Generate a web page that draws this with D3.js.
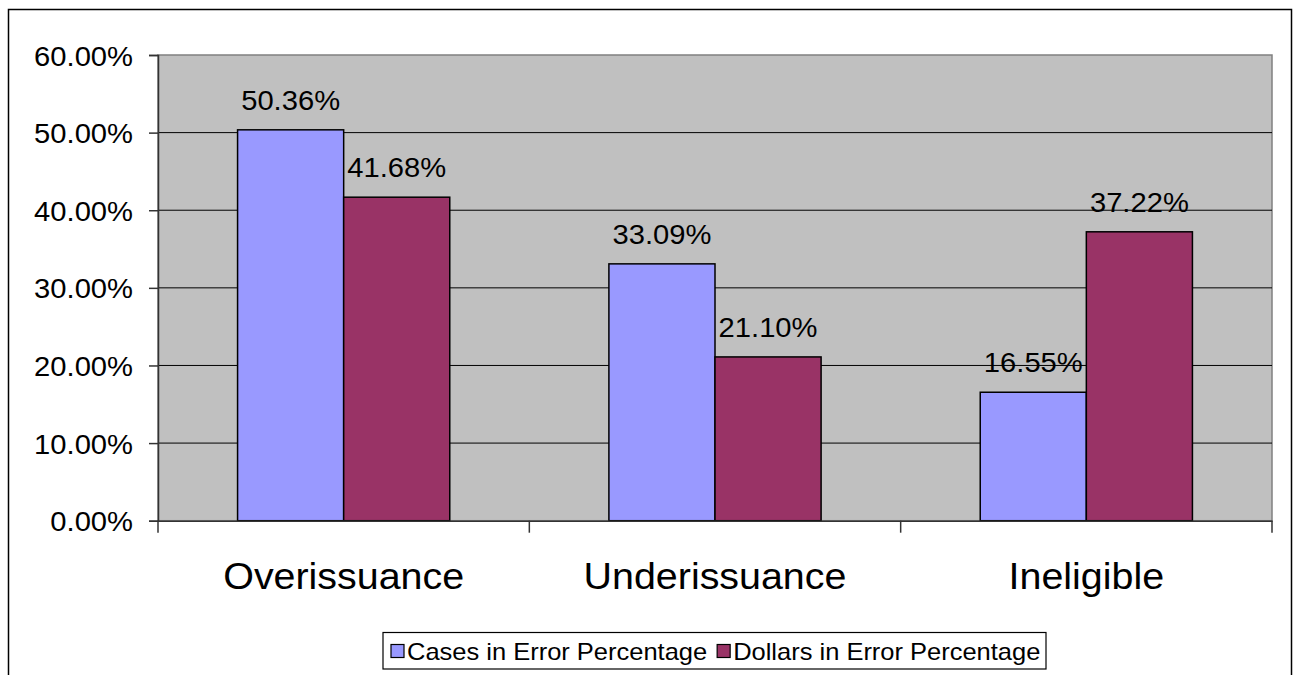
<!DOCTYPE html>
<html>
<head>
<meta charset="utf-8">
<script src="https://cdn.jsdelivr.net/npm/d3@7/dist/d3.min.js"></script>
<style>
html,body{margin:0;padding:0;background:#fff;}
svg{display:block;}
text{font-family:"Liberation Sans",Arial,Helvetica,sans-serif;fill:#000;}
</style>
</head>
<body>
<svg id="chart" width="1293" height="675"></svg>
<script>
const categories = ["Overissuance", "Underissuance", "Ineligible"];
const seriesNames = ["Cases in Error Percentage", "Dollars in Error Percentage"];
const casesValues = [0.5036, 0.3309, 0.1655];
const dollarsValues = [0.4168, 0.2110, 0.3722];
const yTicks = [0, 0.1, 0.2, 0.3, 0.4, 0.5, 0.6];
const colors = ["#9999FF", "#993366"];

const SX = 1.08; // horizontal stretch of the original rendering
const svg = d3.select("#chart");

// outer chart border
svg.append("rect").attr("x", 8.5).attr("y", 9.5).attr("width", 1283).attr("height", 700)
  .attr("fill", "#fff").attr("stroke", "#000").attr("stroke-width", 1.5);

const L = 158, R = 1272, T = 55, B = 520.7;
const x0 = d3.scaleBand().domain(categories).range([L, R]).padding(0);
const x1 = d3.scaleBand().domain(seriesNames).range([0, x0.bandwidth()]).paddingInner(0).paddingOuter(0.75);
const y = d3.scaleLinear().domain([0, 0.6]).range([B, T]);
const fmt = d3.format(".2%");

// plot area
svg.append("rect").attr("x", L).attr("y", T).attr("width", R - L).attr("height", B - T)
  .attr("fill", "#C0C0C0").attr("stroke", "#808080").attr("stroke-width", 1.5);

// gridlines
svg.append("g").selectAll("line").data(yTicks.filter(d => d > 0 && d < 0.6)).join("line")
  .attr("x1", L).attr("x2", R).attr("y1", d => y(d)).attr("y2", d => y(d))
  .attr("stroke", "#000").attr("stroke-width", 1);

// y axis
const yAxis = d3.axisLeft(y).tickValues(yTicks).tickFormat(fmt).tickSize(9).tickPadding(16);
const gy = svg.append("g").attr("transform", `translate(${L},0)`).call(yAxis);
gy.select(".domain").attr("stroke", "#333").attr("stroke-width", 1.5);
gy.selectAll(".tick line").attr("stroke", "#333").attr("stroke-width", 1.5);
gy.selectAll(".tick text").attr("font-size", 27).attr("fill", "#000")
  .attr("dy", null).attr("dominant-baseline", "central")
  .each(function() {
    const t = d3.select(this);
    const xx = +t.attr("x");
    t.attr("x", 0).attr("transform", `translate(${xx},1) scale(${SX},1)`);
  });

// bars
const data = categories.map((c, i) => ({cat: c, vals: [casesValues[i], dollarsValues[i]]}));
const groups = svg.append("g").selectAll("g").data(data).join("g")
  .attr("transform", d => `translate(${x0(d.cat)},0)`);
groups.selectAll("rect").data(d => d.vals.map((v, j) => ({s: seriesNames[j], v, j}))).join("rect")
  .attr("x", d => x1(d.s)).attr("width", x1.bandwidth())
  .attr("y", d => y(d.v)).attr("height", d => B - y(d.v))
  .attr("fill", d => colors[d.j]).attr("stroke", "#000").attr("stroke-width", 1.5);
groups.selectAll("text").data(d => d.vals.map((v, j) => ({s: seriesNames[j], v, j}))).join("text")
  .attr("text-anchor", "middle").attr("font-size", 27)
  .attr("transform", d => `translate(${x1(d.s) + x1.bandwidth() / 2},${y(d.v) - 20}) scale(${SX},1)`)
  .text(d => fmt(d.v));

// x axis
const xAxis = d3.axisBottom(x0).tickSize(0).tickPadding(0);
const gx = svg.append("g").attr("transform", `translate(0,${B})`).call(xAxis);
gx.select(".domain").attr("stroke", "#333").attr("stroke-width", 1.5);
gx.selectAll(".tick text").attr("font-size", 36.5).attr("fill", "#000").attr("dy", null)
  .attr("y", 0).attr("transform", `translate(0,68.5) scale(${SX},1)`);
// category boundary tick marks
svg.append("g").selectAll("line")
  .data([L].concat(categories.map(c => x0(c) + x0.bandwidth())))
  .join("line")
  .attr("x1", d => d).attr("x2", d => d).attr("y1", B).attr("y2", B + 12)
  .attr("stroke", "#333").attr("stroke-width", 1.5);

// legend
const lg = svg.append("g");
lg.append("rect").attr("x", 383).attr("y", 632.5).attr("width", 663).attr("height", 36.5)
  .attr("fill", "#fff").attr("stroke", "#000").attr("stroke-width", 1.2);
let cx = 391;
seriesNames.forEach((s, i) => {
  lg.append("rect").attr("x", cx).attr("y", 644.5).attr("width", 13).attr("height", 13)
    .attr("fill", colors[i]).attr("stroke", "#000").attr("stroke-width", 1.2);
  const t = lg.append("text").attr("font-size", 23.6)
    .attr("transform", `translate(${cx + 16},${659.5}) scale(${SX},1)`).text(s);
  cx = cx + 16 + t.node().getComputedTextLength() * SX + 10;
});
</script>
</body>
</html>
